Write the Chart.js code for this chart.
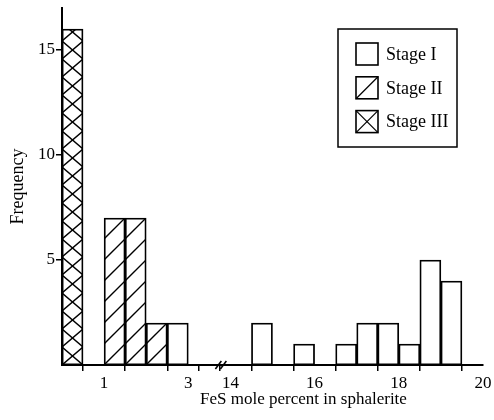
<!DOCTYPE html>
<html>
<head>
<meta charset="utf-8">
<script src="https://cdn.jsdelivr.net/npm/chart.js@4/dist/chart.umd.min.js"></script>
<style>
  html, body { margin: 0; padding: 0; background: #fff; }
  #wrap { width: 494px; height: 420px; position: relative; }
</style>
</head>
<body>
<div id="wrap"><canvas id="c"></canvas></div>
<script>
// FeS content of sphalerite: histogram bins (lower edge, mol %) and counts per stage
const binWidth = 0.5;
const stageLabels = ['Stage I', 'Stage II', 'Stage III'];
const stage1Bins = [2.5, 14.5, 15.5, 16.5, 17, 17.5, 18, 18.5, 19];
const stage1Counts = [2, 2, 1, 1, 2, 2, 1, 5, 4];
const stage2Bins = [1, 1.5, 2];
const stage2Counts = [7, 7, 2];
const stage3Bins = [0];
const stage3Counts = [16];

// Horizontal axis is broken: everything from 14 up is shifted left by breakGap
const breakLow = 3.5;
const breakGap = 10;
const xMax = 20;
const xTickValues = [1, 2, 3, 3.5, 14, 15, 16, 17, 18, 19, 20];
const xTickLabels = ['1', '', '3', '', '14', '', '16', '', '18', '', '20'];
const yTickValues = [5, 10, 15];
const yMax = 17;

const toAxis = v => (v <= breakLow ? v : v - breakGap);
const axisTicks = xTickValues.map(toAxis);

const FONT = '"Liberation Serif", "Times New Roman", serif';

function binsToPoints(bins, counts) {
  return bins.map((b, i) => ({ x: toAxis(b + binWidth / 2), y: counts[i] }));
}

// Hatch tiles used as bar fills
function makeHatch(kind, w, h) {
  const cv = document.createElement('canvas');
  cv.width = w; cv.height = h;
  const g = cv.getContext('2d');
  g.fillStyle = '#fff';
  g.fillRect(0, 0, w, h);
  g.strokeStyle = '#000';
  g.lineWidth = 1.4;
  g.lineCap = 'square';
  const seg = (x1, y1, x2, y2) => { g.beginPath(); g.moveTo(x1, y1); g.lineTo(x2, y2); g.stroke(); };
  if (kind === 'diagonal' || kind === 'cross') {
    seg(0, h, w, 0); seg(-w, h, 0, 0); seg(w, h, 2 * w, 0);
  }
  if (kind === 'cross') {
    seg(0, 0, w, h); seg(-w, 0, 0, h); seg(w, 0, 2 * w, h);
  }
  return g.createPattern(cv, 'repeat');
}

const ctx = document.getElementById('c').getContext('2d');
const hatchDiag = makeHatch('diagonal', 21, 21);
const hatchCross = makeHatch('cross', 21, 18);

// Anchor hatch tiles to the plot origin so stripes run on from bar to bar
const hatchAnchor = {
  id: 'hatchAnchor',
  beforeDatasetsDraw(chart) {
    const { left, bottom } = chart.chartArea;
    const m = new DOMMatrix([1, 0, 0, 1, left, bottom]);
    hatchDiag.setTransform(m);
    hatchCross.setTransform(new DOMMatrix([1, 0, 0, 1, left, bottom]));
  }
};

// Double-slash mark on the x axis where the scale is interrupted
const axisBreak = {
  id: 'axisBreak',
  afterDraw(chart) {
    const x = chart.scales.x;
    const c = chart.ctx;
    const cx = x.getPixelForValue((breakLow + toAxis(14)) / 2) + 1;
    const cy = chart.chartArea.bottom;
    c.save();
    c.strokeStyle = '#000';
    c.lineWidth = 1.5;
    [-2.5, 2.5].forEach(d => {
      c.beginPath();
      c.moveTo(cx + d - 3, cy + 4);
      c.lineTo(cx + d + 3, cy - 4);
      c.stroke();
    });
    c.restore();
  }
};

// Caption under the horizontal axis
const axisCaption = {
  id: 'axisCaption',
  afterDraw(chart, args, opts) {
    const c = chart.ctx;
    const a = chart.chartArea;
    c.save();
    c.fillStyle = '#000';
    c.font = opts.size + 'px ' + FONT;
    c.textAlign = 'center';
    c.textBaseline = 'middle';
    c.fillText(opts.text, (a.left + a.right) / 2 + opts.shift, opts.y);
    c.restore();
  }
};

// Boxed key with hatch swatches
const boxedKey = {
  id: 'boxedKey',
  afterDraw(chart, args, o) {
    const c = chart.ctx;
    c.save();
    c.strokeStyle = '#000';
    c.lineWidth = 1.5;
    c.strokeRect(o.left, o.top, o.width, o.height);
    c.font = o.size + 'px ' + FONT;
    c.fillStyle = '#000';
    c.textBaseline = 'middle';
    chart.data.datasets.forEach((ds, i) => {
      const y = o.firstRow + i * o.rowGap;
      const sx = o.swatchX, s = o.swatch;
      const top = y - s / 2;
      c.fillStyle = '#fff';
      c.fillRect(sx, top, s, s);
      c.lineWidth = 1.6;
      c.strokeRect(sx, top, s, s);
      c.lineWidth = 1.3;
      if (ds.hatch === 'diagonal' || ds.hatch === 'cross') {
        c.beginPath(); c.moveTo(sx, top + s); c.lineTo(sx + s, top); c.stroke();
      }
      if (ds.hatch === 'cross') {
        c.beginPath(); c.moveTo(sx, top); c.lineTo(sx + s, top + s); c.stroke();
      }
      c.fillStyle = '#000';
      c.fillText(ds.label, o.textX, y + 1);
    });
    c.restore();
  }
};

const barStyle = {
  borderColor: '#000',
  borderWidth: 1.8,
  borderSkipped: false,
  barPercentage: 1,
  categoryPercentage: 1,
  grouped: false
};

new Chart(ctx, {
  type: 'bar',
  data: {
    datasets: [
      Object.assign({ label: stageLabels[0], hatch: 'none', data: binsToPoints(stage1Bins, stage1Counts), backgroundColor: '#fff' }, barStyle),
      Object.assign({ label: stageLabels[1], hatch: 'diagonal', data: binsToPoints(stage2Bins, stage2Counts), backgroundColor: hatchDiag }, barStyle),
      Object.assign({ label: stageLabels[2], hatch: 'cross', data: binsToPoints(stage3Bins, stage3Counts), backgroundColor: hatchCross }, barStyle)
    ]
  },
  options: {
    responsive: true,
    maintainAspectRatio: false,
    animation: false,
    devicePixelRatio: 1,
    layout: { padding: { left: 0, right: 11, top: 8, bottom: 0 } },
    plugins: {
      legend: { display: false },
      tooltip: { enabled: false },
      axisCaption: { text: 'FeS mole percent in sphalerite', size: 17, shift: 31, y: 400 },
      boxedKey: { left: 338, top: 29, width: 119, height: 118, swatchX: 356, swatch: 22, firstRow: 54, rowGap: 33.8, textX: 386, size: 18 }
    },
    scales: {
      x: {
        type: 'linear',
        offset: false,
        min: 0,
        max: toAxis(xMax),
        afterBuildTicks(scale) { scale.ticks = axisTicks.map(v => ({ value: v })); },
        afterFit(scale) { scale.height = 55; scale.paddingLeft = 0; scale.paddingRight = 0; },
        ticks: {
          autoSkip: false,
          maxRotation: 0,
          padding: 2,
          color: '#000',
          font: { family: FONT, size: 17 },
          callback(value) {
            const i = axisTicks.indexOf(value);
            return i >= 0 ? xTickLabels[i] : '';
          }
        },
        grid: { drawOnChartArea: false, drawTicks: true, tickLength: 6, color: '#000', lineWidth: 1.5 },
        border: { display: true, color: '#000', width: 2 }
      },
      y: {
        min: 0,
        max: yMax,
        afterBuildTicks(scale) { scale.ticks = yTickValues.map(v => ({ value: v })); },
        afterFit(scale) { scale.width = 62; scale.paddingTop = 0; scale.paddingBottom = 0; },
        ticks: {
          padding: 1,
          color: '#000',
          font: { family: FONT, size: 17 }
        },
        grid: { drawOnChartArea: false, drawTicks: true, tickLength: 6, color: '#000', lineWidth: 1.5 },
        border: { display: true, color: '#000', width: 2 },
        title: {
          display: true,
          text: 'Frequency',
          color: '#000',
          font: { family: FONT, size: 18 },
          padding: { top: 7, bottom: 0 }
        }
      }
    }
  },
  plugins: [hatchAnchor, axisBreak, axisCaption, boxedKey]
});
</script>
</body>
</html>
